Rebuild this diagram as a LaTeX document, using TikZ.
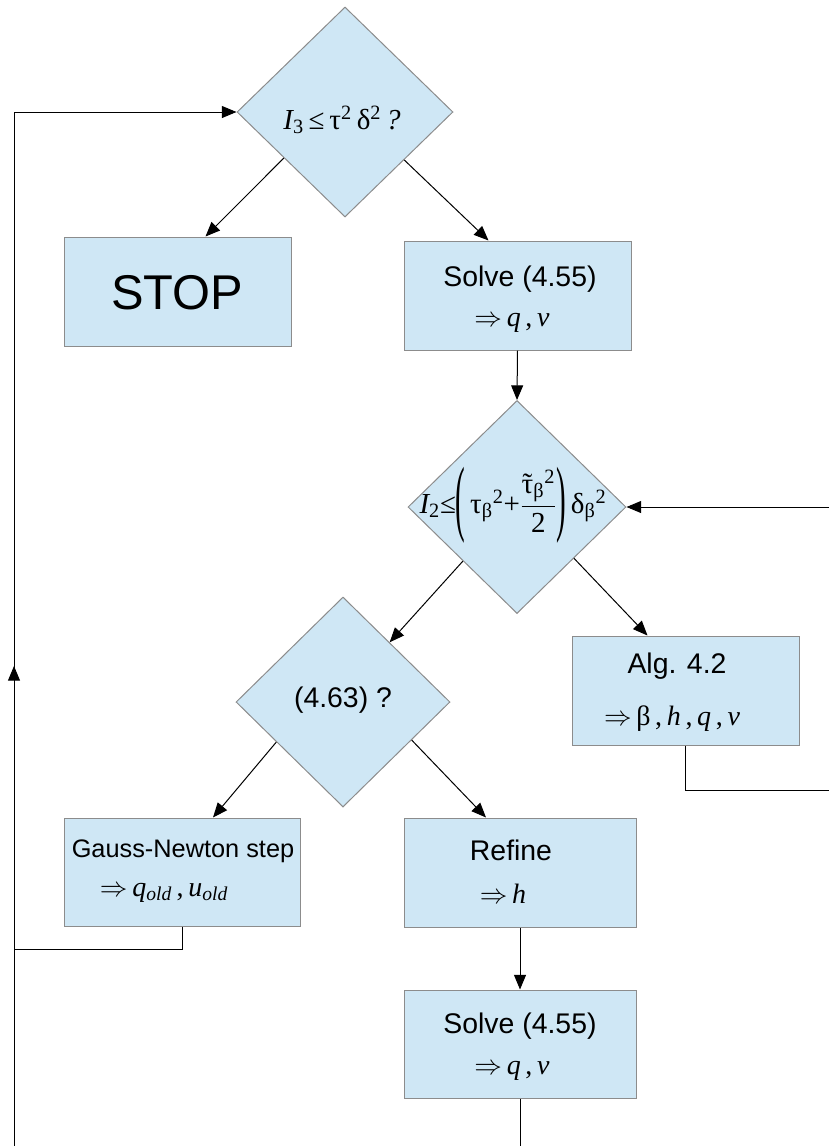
\documentclass[tikz,border=0pt]{standalone}
\usepackage{fontspec}
\usepackage{amsmath}
\usepackage{graphicx}
\setmainfont{Liberation Sans}
\newfontfamily\serif{Liberation Serif}
\usetikzlibrary{shapes.geometric,arrows.meta,calc}

\definecolor{boxfill}{RGB}{207,231,245}
\definecolor{boxline}{RGB}{140,140,140}

% italic variable, implication arrow, tilde over a glyph, tall thin bracket
\newcommand\var[1]{{\serif\itshape #1}}
\newcommand\imp{$\Rightarrow$\,}
\newcommand\tildeover[1]{\ooalign{#1\cr\hidewidth ˜\hidewidth\cr}}
\newcommand\tallparen[1]{\raisebox{-0.42em}{\scalebox{1}[2.9]{#1}}}

\tikzset{
  px/.style={x=0.75pt,y=-0.75pt},
  box/.style={draw=boxline,fill=boxfill,line width=0.75pt,inner sep=0pt},
  decision/.style={diamond,draw=boxline,fill=boxfill,line width=0.75pt,inner sep=0pt},
  txt/.style={inner sep=0pt,font=\fontsize{21.3}{25}\selectfont},
  smalltxt/.style={inner sep=0pt,font=\fontsize{19}{23}\selectfont},
  bigtxt/.style={inner sep=0pt,font=\fontsize{36.6}{42}\selectfont},
  formula/.style={inner sep=0pt,font=\fontsize{21}{25}\selectfont\serif},
  bigformula/.style={inner sep=0pt,font=\fontsize{21.75}{26}\selectfont\serif},
  conn/.style={line width=0.75pt,black},
  arr/.style={conn,-{Triangle[length=11pt,width=9pt]}},
}

\begin{document}
\begin{tikzpicture}[px]
  \useasboundingbox (0,0) rectangle (829,1146);

  % decisions
  \node[decision,minimum width=216*0.75pt,minimum height=210*0.75pt] (d1) at (345,112) {};
  \node[decision,minimum width=218*0.75pt,minimum height=213*0.75pt] (d2) at (517,507) {};
  \node[decision,minimum width=214*0.75pt,minimum height=210*0.75pt] (d3) at (343,702) {};

  % process boxes
  \node[box,minimum width=227*0.75pt,minimum height=109*0.75pt] (stop) at (177.5,291.5) {};
  \node[box,minimum width=227*0.75pt,minimum height=109*0.75pt] (solve1) at (517.5,295.5) {};
  \node[box,minimum width=227*0.75pt,minimum height=109*0.75pt] (alg) at (685.5,690.5) {};
  \node[box,minimum width=236*0.75pt,minimum height=108*0.75pt] (gn) at (182,872) {};
  \node[box,minimum width=232*0.75pt,minimum height=109*0.75pt] (refine) at (520,872.5) {};
  \node[box,minimum width=232*0.75pt,minimum height=108*0.75pt] (solve2) at (520,1044) {};

  % texts
  \node[bigformula] (d1t) at (342,120)
    {\var{I}\textsubscript{3}\,≤\,τ\textsuperscript{2}\,δ\textsuperscript{2}\,\var{?}};
  \node[bigformula] (d2t) at (513,505)
    {$\text{\itshape I}_{\text{2}}\text{≤}\text{\tallparen{(}}\,\text{τ}_{\text{β}}{}^{\text{2}}\text{+}\dfrac{\text{\tildeover{τ}}_{\text{β}}{}^{\text{2}}}{\text{2}}\text{\tallparen{)}}\,\text{δ}_{\text{β}}{}^{\text{2}}$};
  \node[txt] (d3t) at (343,700) {(4.63) ?};

  \node[bigtxt] (stopt) at (177,292.5) {STOP};

  \node[txt] (s1a) at (520,279) {Solve (4.55)};
  \node[formula] (s1b) at (512,323) {\imp\var{q}\,,\,\var{v}};

  \node[txt] (alga) at (677,666) {Alg. 4.2};
  \node[formula] (algb) at (672,719) {\imp β\,,\,\var{h}\,,\,\var{q}\,,\,\var{v}};

  \node[smalltxt] (gna) at (183,851) {Gauss-Newton step};
  \node[formula] (gnb) at (164,893) {\imp\var{q}\textsubscript{\var{old}}\,,\,\var{u}\textsubscript{\var{old}}};

  \node[txt] (rfa) at (511,850) {Refine};
  \node[formula] (rfb) at (503,894) {\imp\var{h}};

  \node[txt] (s2a) at (520,1026) {Solve (4.55)};
  \node[formula] (s2b) at (512,1071) {\imp\var{q}\,,\,\var{v}};

  % free ends of connectors
  \coordinate (inright) at (829,507);
  \coordinate (outalg) at (829,790);
  \coordinate (outbottom) at (520,1146);
  \coordinate (loopcorner) at (14,949);
  \coordinate (inbottom) at (14,1146);
  \coordinate (uptip) at (14,666);

  % connectors
  \draw[arr] (d1.217) -- ($(stop.north)+(28,0)$);
  \draw[arr] (d1.321) -- ($(solve1.north)+(-29,0)$);
  \draw[arr] (solve1.south) -- (d2.north);
  \draw[arr] (inright) -- (d2.east);
  \draw[arr] (d2.225) -- (d3.52);
  \draw[arr] (d2.318) -- ($(alg.north)+(-38,0)$);
  \draw[conn] (alg.south) |- (outalg);
  \draw[arr] (d3.211) -- ($(gn.north)+(31,0)$);
  \draw[arr] (d3.331) -- ($(refine.north)+(-34,0)$);
  \draw[arr] (gn.south) |- (loopcorner) |- (d1.west);
  \draw[arr] (inbottom) -- (uptip);
  \draw[arr] (refine.south) -- (solve2.north);
  \draw[conn] (solve2.south) -- (outbottom);
\end{tikzpicture}
\end{document}
